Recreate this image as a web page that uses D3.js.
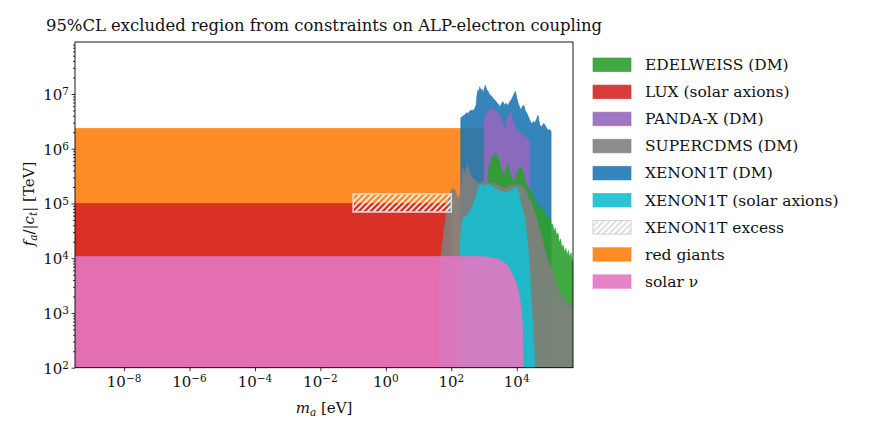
<!DOCTYPE html>
<html>
<head>
<meta charset="utf-8">
<script src="https://cdn.jsdelivr.net/npm/d3@7"></script>
<style>
  body { margin: 0; background: #fff; }
  text { font-family: "DejaVu Serif", serif; fill: #111; }
</style>
</head>
<body>
<div id="chart"></div>
<script>
// all curves are [log10(m_a / eV), log10(f_a/|c| / TeV)]
const redGiants = [[-10, 6.37], [3.0, 6.37]];
const lux = [[-10, 5.0], [2.0, 5.0]];
const solarNu = [[-10, 4.03], [3.0, 4.03], [3.2, 4.01], [3.4, 3.99], [3.55, 3.95], [3.7, 3.88],
  [3.85, 3.73], [3.95, 3.6], [4.05, 3.41], [4.1, 3.24], [4.15, 3.0], [4.18, 2.7], [4.2, 2.0]];
const xenonDM = [[2.29, 6.56], [2.35, 6.6], [2.42, 6.62], [2.47, 6.66], [2.51, 6.64], [2.57, 6.69],
  [2.63, 6.71], [2.68, 6.7], [2.72, 6.74], [2.76, 6.8], [2.78, 6.95], [2.81, 7.07], [2.84, 7.04],
  [2.87, 7.13], [2.91, 7.06], [2.94, 7.09], [2.97, 7.0], [3.0, 7.08], [3.04, 7.16], [3.08, 7.08],
  [3.12, 7.05], [3.17, 6.99], [3.23, 6.96], [3.28, 6.92], [3.33, 6.89], [3.38, 6.85], [3.43, 6.82],
  [3.49, 6.76], [3.53, 6.82], [3.58, 6.86], [3.62, 6.8], [3.67, 6.83], [3.73, 6.79], [3.78, 6.85],
  [3.84, 6.9], [3.88, 6.95], [3.91, 6.99], [3.96, 7.05], [4.0, 6.93], [4.04, 6.84], [4.09, 6.76],
  [4.13, 6.71], [4.18, 6.78], [4.22, 6.79], [4.26, 6.7], [4.31, 6.65], [4.36, 6.58], [4.4, 6.52],
  [4.46, 6.45], [4.51, 6.5], [4.56, 6.47], [4.61, 6.55], [4.65, 6.61], [4.68, 6.5], [4.71, 6.43],
  [4.77, 6.4], [4.82, 6.46], [4.86, 6.44], [4.91, 6.38], [4.95, 6.34], [5.0, 6.35], [5.05, 6.32]];
const pandaX = [[3.01, 6.52], [3.05, 6.6], [3.09, 6.65], [3.14, 6.69], [3.18, 6.71], [3.23, 6.73],
  [3.27, 6.74], [3.33, 6.71], [3.39, 6.67], [3.45, 6.62], [3.49, 6.58], [3.54, 6.52], [3.58, 6.47],
  [3.61, 6.38], [3.64, 6.29], [3.67, 6.43], [3.7, 6.52], [3.73, 6.58], [3.78, 6.63], [3.82, 6.67],
  [3.85, 6.6], [3.88, 6.52], [3.94, 6.42], [4.0, 6.34], [4.05, 6.31], [4.1, 6.29], [4.15, 6.25],
  [4.19, 6.21], [4.25, 6.23], [4.31, 6.21], [4.36, 6.15], [4.4, 6.1]];
const edelweiss = [[3.11, 5.48], [3.14, 5.62], [3.17, 5.74], [3.2, 5.7], [3.24, 5.85], [3.28, 5.89],
  [3.31, 5.84], [3.35, 5.92], [3.39, 5.9], [3.42, 5.83], [3.46, 5.79], [3.5, 5.68], [3.54, 5.61],
  [3.58, 5.55], [3.62, 5.5], [3.65, 5.58], [3.69, 5.66], [3.73, 5.74], [3.76, 5.62], [3.8, 5.55],
  [3.84, 5.48], [3.88, 5.42], [3.92, 5.38], [3.96, 5.45], [4.0, 5.55], [4.04, 5.61], [4.08, 5.64],
  [4.13, 5.67], [4.16, 5.6], [4.19, 5.56], [4.23, 5.46], [4.27, 5.4], [4.3, 5.37], [4.34, 5.3],
  [4.37, 5.28], [4.4, 5.25], [4.44, 5.12], [4.47, 5.2], [4.51, 5.05], [4.55, 5.1], [4.58, 4.98],
  [4.62, 5.04], [4.66, 4.9], [4.7, 4.97], [4.74, 4.86], [4.78, 4.93], [4.82, 4.78], [4.86, 4.85],
  [4.9, 4.72], [4.94, 4.8], [4.98, 4.68], [5.02, 4.76], [5.06, 4.6], [5.1, 4.62], [5.14, 4.48],
  [5.18, 4.55], [5.22, 4.4], [5.26, 4.46], [5.3, 4.28], [5.34, 4.35], [5.38, 4.18], [5.42, 4.24],
  [5.46, 4.1], [5.5, 4.18], [5.54, 4.05], [5.58, 4.14], [5.62, 4.0], [5.66, 4.1], [5.7, 3.92], [5.75, 3.98]];
const superCDMS = [[1.63, 3.4], [1.66, 3.93], [1.74, 4.3], [1.8, 4.6], [1.87, 4.88], [1.93, 5.1],
  [1.98, 5.22], [2.05, 5.28], [2.11, 5.25], [2.17, 5.14], [2.23, 5.11], [2.29, 5.2], [2.32, 5.34],
  [2.35, 5.55], [2.37, 5.65], [2.4, 5.58], [2.42, 5.52], [2.46, 5.62], [2.49, 5.72], [2.53, 5.63],
  [2.57, 5.57], [2.63, 5.48], [2.72, 5.43], [2.81, 5.37], [2.88, 5.38], [2.94, 5.4], [3.06, 5.4],
  [3.18, 5.37], [3.33, 5.36], [3.49, 5.32], [3.64, 5.28], [3.79, 5.32], [3.94, 5.34], [4.1, 5.34],
  [4.2, 5.3], [4.25, 5.28], [4.3, 5.2], [4.34, 5.15], [4.38, 5.05], [4.42, 5.08], [4.46, 5.01],
  [4.5, 4.92], [4.54, 4.85], [4.58, 4.8], [4.62, 4.7], [4.65, 4.64], [4.69, 4.55], [4.73, 4.48],
  [4.77, 4.39], [4.81, 4.28], [4.86, 4.15], [4.9, 4.08], [4.95, 3.97], [5.0, 3.92], [5.04, 3.84],
  [5.08, 3.78], [5.13, 3.7], [5.17, 3.6], [5.22, 3.5], [5.26, 3.42], [5.32, 3.35], [5.38, 3.29],
  [5.46, 3.24], [5.54, 3.18], [5.63, 3.14], [5.75, 3.1]];
const xenonSolar = [[2.28, 4.38], [2.32, 4.66], [2.39, 4.75], [2.48, 4.79], [2.57, 4.86], [2.66, 4.97],
  [2.75, 5.12], [2.81, 5.28], [2.91, 5.35], [3.0, 5.32], [3.12, 5.35], [3.24, 5.32], [3.36, 5.27],
  [3.49, 5.23], [3.61, 5.21], [3.7, 5.19], [3.79, 5.24], [3.88, 5.26], [3.98, 5.3], [4.04, 5.26],
  [4.1, 5.06], [4.22, 4.8], [4.31, 4.42], [4.37, 4.0], [4.43, 3.45], [4.5, 2.7], [4.56, 2.0]];
// XENON1T excess box: mass range [eV], f range [TeV]
const excessMass = [0.1, 100];
const excessF = [7e4, 1.5e5];

const legendNames = ["EDELWEISS (DM)", "LUX (solar axions)", "PANDA-X (DM)", "SUPERCDMS (DM)",
  "XENON1T (DM)", "XENON1T (solar axions)", "XENON1T excess", "red giants", "solar \u03bd"];
const legendColors = ["#2ca02c", "#d62728", "#9467bd", "#7f7f7f", "#1f77b4", "#17becf", null, "#ff7f0e", "#e377c2"];

const xTicks = [-8, -6, -4, -2, 0, 2, 4];
const yTicks = [2, 3, 4, 5, 6, 7];

const margin = {top: 42, right: 299, bottom: 68.3, left: 75},
      width = 872 - margin.left - margin.right,
      height = 436 - margin.top - margin.bottom;

const svg = d3.select("#chart").append("svg")
    .attr("width", 872).attr("height", 436);

const defs = svg.append("defs");
defs.append("clipPath").attr("id", "clip")
  .append("rect").attr("width", width).attr("height", height);

const hatch = defs.append("pattern").attr("id", "hatch")
    .attr("patternUnits", "userSpaceOnUse").attr("width", 6).attr("height", 6);
hatch.append("path").attr("d", "M-1,1 l2,-2 M0,6 l6,-6 M5,7 l2,-2")
    .attr("stroke", "#f2f2f2").attr("stroke-width", 1.8);
const hatchLeg = defs.append("pattern").attr("id", "hatchLeg")
    .attr("patternUnits", "userSpaceOnUse").attr("width", 6).attr("height", 6);
hatchLeg.append("rect").attr("width", 6).attr("height", 6).attr("fill", "#fff");
hatchLeg.append("path").attr("d", "M-1,1 l2,-2 M0,6 l6,-6 M5,7 l2,-2")
    .attr("stroke", "#d6d6d6").attr("stroke-width", 1.4);

const g = svg.append("g").attr("transform", `translate(${margin.left},${margin.top})`);

const x = d3.scaleLog().domain([10 ** -9.5, 10 ** 5.72]).range([0, width]);
const y = d3.scaleLog().domain([1e2, 10 ** 7.95]).range([height, 0]);

const area = d3.area()
    .x(d => x(10 ** d[0]))
    .y0(height + 5)
    .y1(d => y(10 ** d[1]));

const plot = g.append("g").attr("clip-path", "url(#clip)");

// drawing order chosen to reproduce the overlaps in the figure
const layers = [
  [redGiants, "#ff7f0e"], [lux, "#d62728"], [xenonDM, "#1f77b4"], [pandaX, "#9467bd"],
  [edelweiss, "#2ca02c"], [superCDMS, "#7f7f7f"], [xenonSolar, "#17becf"], [solarNu, "#e377c2"]
];
layers.forEach(([data, color]) => {
  plot.append("path")
      .datum(data)
      .attr("d", area)
      .attr("fill", color)
      .attr("fill-opacity", 0.9)
      .attr("stroke", color)
      .attr("stroke-opacity", 0.6)
      .attr("stroke-width", 1);
});

// XENON1T excess (hatched)
plot.append("rect")
    .attr("x", x(excessMass[0]))
    .attr("y", y(excessF[1]))
    .attr("width", x(excessMass[1]) - x(excessMass[0]))
    .attr("height", y(excessF[0]) - y(excessF[1]))
    .attr("fill", "url(#hatch)")
    .attr("stroke", "#d9d9d9")
    .attr("stroke-width", 1.6);

// axes
g.append("g")
    .attr("transform", `translate(0,${height})`)
    .call(d3.axisBottom(x).tickValues(xTicks.map(e => 10 ** e)).tickSize(3.5).tickFormat(""));
g.append("g")
    .call(d3.axisLeft(y).tickValues(yTicks.map(e => 10 ** e)).tickSize(3.5).tickFormat(""));

// minor y ticks
const yMinor = [];
for (let k = 2; k <= 7; k++) for (let m = 2; m <= 9; m++) if (k + Math.log10(m) < 7.95) yMinor.push(m * 10 ** k);
g.append("g")
    .call(d3.axisLeft(y).tickValues(yMinor).tickSize(2).tickFormat(""));

g.selectAll(".domain").remove();
g.selectAll(".tick line").attr("stroke", "#000").attr("stroke-width", 0.8);

function powLabel(sel, exp) {
  sel.append("tspan").text("10");
  sel.append("tspan").attr("dy", "-0.45em").style("font-size", "10.5px")
     .text(exp < 0 ? "\u2212" + (-exp) : String(exp));
}

xTicks.forEach(e => {
  const t = g.append("text")
      .attr("x", x(10 ** e))
      .attr("y", height + 19)
      .attr("text-anchor", "middle")
      .style("font-size", "15px");
  powLabel(t, e);
});
yTicks.forEach(e => {
  const t = g.append("text")
      .attr("x", -6)
      .attr("y", y(10 ** e) + 6)
      .attr("text-anchor", "end")
      .style("font-size", "15px");
  powLabel(t, e);
});

// frame
g.append("rect").attr("width", width).attr("height", height)
    .attr("fill", "none").attr("stroke", "#000").attr("stroke-width", 0.9);

// axis labels
const xl = svg.append("text")
    .attr("x", margin.left + width / 2)
    .attr("y", 413)
    .attr("text-anchor", "middle")
    .style("font-size", "15px");
xl.append("tspan").style("font-style", "italic").text("m");
xl.append("tspan").attr("dy", 3).style("font-size", "10.5px").style("font-style", "italic").text("a");
xl.append("tspan").attr("dy", -3).text(" [eV]");

const yl = svg.append("text")
    .attr("transform", `translate(34,${margin.top + 162}) rotate(-90)`)
    .attr("text-anchor", "middle")
    .style("font-size", "15px");
yl.append("tspan").style("font-style", "italic").text("f");
yl.append("tspan").attr("dy", 3).style("font-size", "10.5px").style("font-style", "italic").text("a");
yl.append("tspan").attr("dy", -3).text("/|");
yl.append("tspan").style("font-style", "italic").text("c");
yl.append("tspan").attr("dy", 3).style("font-size", "10.5px").style("font-style", "italic").text("t");
yl.append("tspan").attr("dy", -3).text("| [TeV]");

// title
svg.append("text")
    .attr("x", 46)
    .attr("y", 31)
    .style("font-size", "16.4px")
    .text("95%CL excluded region from constraints on ALP-electron coupling");

// legend
const legend = svg.append("g").attr("transform", "translate(593,58)");
legendNames.forEach((name, i) => {
  const c = legendColors[i];
  legend.append("rect")
      .attr("x", 0).attr("y", i * 27.1)
      .attr("width", 38).attr("height", 13.5)
      .attr("fill", c ? c : "url(#hatchLeg)")
      .attr("fill-opacity", c ? 0.9 : 1)
      .attr("stroke", c ? c : "#d0d0d0")
      .attr("stroke-opacity", c ? 0.6 : 1)
      .attr("stroke-width", 1);
  legend.append("text")
      .attr("x", 52)
      .attr("y", i * 27.1 + 12)
      .style("font-size", "15.5px")
      .text(name);
});
</script>
</body>
</html>
